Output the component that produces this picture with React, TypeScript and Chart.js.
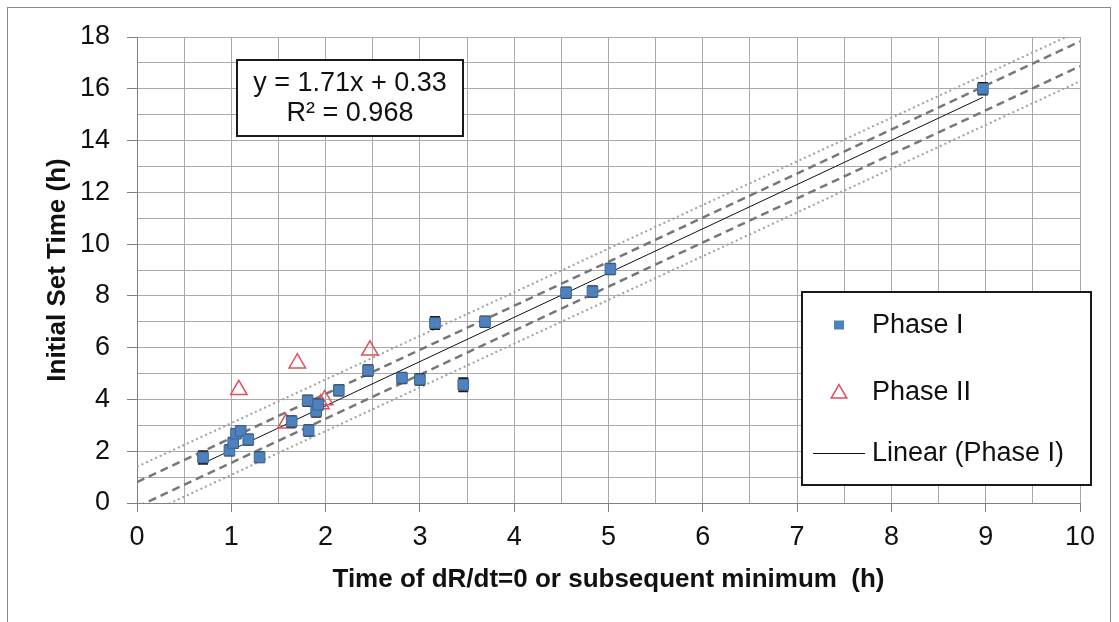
import React, { useEffect, useRef } from 'react';
import { Chart, registerables } from 'chart.js';

Chart.register(...registerables);

// ---- data ----
const phase1X = [0.70, 0.98, 1.02, 1.05, 1.10, 1.18, 1.30, 1.64, 1.82, 1.81, 1.90, 1.92, 2.14, 2.45, 2.81, 3.00, 3.16, 3.46, 3.69, 4.55, 4.83, 5.02, 8.97];
const phase1Y = [1.76, 2.03, 2.32, 2.68, 2.78, 2.45, 1.77, 3.15, 2.80, 3.95, 3.55, 3.80, 4.35, 5.12, 4.83, 4.77, 6.95, 4.57, 7.00, 8.12, 8.17, 9.04, 16.00];
const phase1Err = [0.24, 0.2, 0.2, 0.18, 0.18, 0.2, 0.2, 0.2, 0.2, 0.2, 0.22, 0.2, 0.2, 0.2, 0.2, 0.2, 0.23, 0.25, 0.2, 0.2, 0.2, 0.2, 0.22];
const phase2X = [1.08, 1.58, 1.70, 1.95, 1.99, 2.47];
const phase2Y = [4.37, 3.08, 5.40, 3.82, 3.98, 5.90];

const trendX = [0.70, 8.97];
const trendY = [1.53, 15.67];
const bandX = [0, 10];
const upperDashedY = [0.81, 17.83];
const lowerDashedY = [-0.15, 16.87];
const upperDottedY = [1.40, 18.25];
const lowerDottedY = [-0.60, 16.29];

const xTickLabels = [0, 1, 2, 3, 4, 5, 6, 7, 8, 9, 10];
const yTickLabels = [0, 2, 4, 6, 8, 10, 12, 14, 16, 18];
const equationLines = ['y = 1.71x + 0.33', 'R² = 0.968'];
const xTitle = 'Time of dR/dt=0 or subsequent minimum  (h)';
const yTitle = 'Initial Set Time (h)';
const seriesNames = ['Phase I', 'Phase II', 'Linear (Phase I)'];

const FONT = '"Liberation Sans", Arial, Helvetica, sans-serif';
const BLUE = '#4f81bd';
const BLUE_EDGE = '#3b6596';
const RED = '#e0505c';
const GRID = '#a9a9a9';

const pts = (xs: number[], ys: number[]) => xs.map((x, i) => ({ x, y: ys[i] }));

export default function App() {
  const ref = useRef<HTMLCanvasElement>(null);

  useEffect(() => {
    const canvas = ref.current;
    if (!canvas) return;

    const drawTriangle = (ctx: CanvasRenderingContext2D, x: number, y: number, r: number) => {
      ctx.beginPath();
      for (let k = 0; k < 3; k++) {
        const a = (k * 2 * Math.PI) / 3;
        const px = x + Math.sin(a) * r;
        const py = y - Math.cos(a) * r;
        if (k === 0) ctx.moveTo(px, py);
        else ctx.lineTo(px, py);
      }
      ctx.closePath();
    };

    const overlay = {
      id: 'overlay',
      beforeDraw(chart: any) {
        const ctx = chart.ctx as CanvasRenderingContext2D;
        ctx.save();
        ctx.fillStyle = '#ffffff';
        ctx.fillRect(0, 0, chart.width, chart.height);
        ctx.restore();
      },
      beforeDatasetDraw(chart: any, args: any) {
        if (args.index !== 0) return;
        const ctx = chart.ctx as CanvasRenderingContext2D;
        const ys = chart.scales.y;
        const meta = chart.getDatasetMeta(0);
        ctx.save();
        ctx.strokeStyle = '#1c1c1c';
        meta.data.forEach((pt: any, i: number) => {
          const x = pt.x;
          const yT = ys.getPixelForValue(phase1Y[i] + phase1Err[i]);
          const yB = ys.getPixelForValue(phase1Y[i] - phase1Err[i]);
          ctx.lineWidth = 1;
          ctx.beginPath();
          ctx.moveTo(x, yT);
          ctx.lineTo(x, yB);
          ctx.stroke();
          ctx.lineWidth = 2;
          ctx.beginPath();
          ctx.moveTo(x - 5, yT);
          ctx.lineTo(x + 5, yT);
          ctx.moveTo(x - 5, yB);
          ctx.lineTo(x + 5, yB);
          ctx.stroke();
        });
        ctx.restore();
      },
      afterDraw(chart: any) {
        const ctx = chart.ctx as CanvasRenderingContext2D;
        const a = chart.chartArea;
        ctx.save();

        // equation box
        const ex = a.left + 100, ey = a.top + 23, ew = 226, eh = 76;
        ctx.fillStyle = '#ffffff';
        ctx.fillRect(ex, ey, ew, eh);
        ctx.lineWidth = 2;
        ctx.strokeStyle = '#1a1a1a';
        ctx.strokeRect(ex, ey, ew, eh);
        ctx.fillStyle = '#111111';
        ctx.font = `27px ${FONT}`;
        ctx.textAlign = 'center';
        ctx.textBaseline = 'middle';
        ctx.fillText(equationLines[0], ex + ew / 2, ey + 24);
        ctx.fillText(equationLines[1], ex + ew / 2, ey + 54);

        // legend box
        const lx = a.left + 665, ly = a.top + 255, lw = 289, lh = 193;
        ctx.fillStyle = '#ffffff';
        ctx.fillRect(lx, ly, lw, lh);
        ctx.lineWidth = 2;
        ctx.strokeStyle = '#1a1a1a';
        ctx.strokeRect(lx, ly, lw, lh);

        const mx = lx + 37;
        const tx = lx + 70;
        const rows = [ly + 33, ly + 100, ly + 161];
        ctx.fillStyle = BLUE;
        ctx.fillRect(mx - 5, rows[0] - 4.5, 10, 9);
        ctx.strokeStyle = RED;
        ctx.lineWidth = 1.5;
        drawTriangle(ctx, mx, rows[1] + 1.5, 9);
        ctx.stroke();
        ctx.strokeStyle = '#111111';
        ctx.lineWidth = 1;
        ctx.beginPath();
        ctx.moveTo(lx + 11, rows[2] + 0.5);
        ctx.lineTo(lx + 63, rows[2] + 0.5);
        ctx.stroke();

        ctx.fillStyle = '#111111';
        ctx.font = `27px ${FONT}`;
        ctx.textAlign = 'left';
        ctx.textBaseline = 'middle';
        rows.forEach((ry, i) => ctx.fillText(seriesNames[i], tx, ry + 1));

        // outer frame
        ctx.strokeStyle = '#8a8a8a';
        ctx.lineWidth = 1;
        ctx.strokeRect(7.5, 7.5, 1103, 700);
        ctx.restore();
      },
    };

    const chart = new Chart(canvas, {
      type: 'scatter',
      data: {
        datasets: [
          {
            label: seriesNames[0],
            data: pts(phase1X, phase1Y),
            pointStyle: 'rect',
            pointRadius: 7.5,
            backgroundColor: BLUE,
            borderColor: BLUE_EDGE,
            borderWidth: 1,
          },
          {
            label: seriesNames[1],
            data: pts(phase2X, phase2Y),
            pointStyle: 'triangle',
            pointRadius: 9.5,
            backgroundColor: 'rgba(255,255,255,0)',
            borderColor: RED,
            borderWidth: 1.5,
          },
          {
            label: seriesNames[2],
            type: 'line',
            data: pts(trendX, trendY),
            borderColor: '#111111',
            borderWidth: 1,
            pointRadius: 0,
            fill: false,
          },
          {
            label: 'upper confidence',
            type: 'line',
            data: pts(bandX, upperDashedY),
            borderColor: '#777777',
            borderWidth: 2.5,
            borderDash: [8, 5],
            pointRadius: 0,
            fill: false,
          },
          {
            label: 'lower confidence',
            type: 'line',
            data: pts(bandX, lowerDashedY),
            borderColor: '#777777',
            borderWidth: 2.5,
            borderDash: [8, 5],
            pointRadius: 0,
            fill: false,
          },
          {
            label: 'upper prediction',
            type: 'line',
            data: pts(bandX, upperDottedY),
            borderColor: '#a0a0a0',
            borderWidth: 2,
            borderDash: [2, 3],
            pointRadius: 0,
            fill: false,
          },
          {
            label: 'lower prediction',
            type: 'line',
            data: pts(bandX, lowerDottedY),
            borderColor: '#a0a0a0',
            borderWidth: 2,
            borderDash: [2, 3],
            pointRadius: 0,
            fill: false,
          },
        ],
      } as any,
      options: {
        responsive: false,
        animation: false,
        events: [],
        layout: { padding: { left: 0, right: 39, top: 37, bottom: 0 } },
        plugins: {
          legend: { display: false },
          tooltip: { enabled: false },
        },
        scales: {
          x: {
            type: 'linear',
            min: 0,
            max: 10,
            afterFit: (s: any) => {
              s.height = 119;
            },
            ticks: {
              stepSize: 0.5,
              autoSkip: false,
              maxRotation: 0,
              padding: 9,
              color: '#111111',
              font: { family: FONT, size: 27 },
              callback: (v: any) => (xTickLabels.includes(Number(v)) ? String(v) : ''),
            },
            grid: {
              color: GRID,
              lineWidth: 1,
              tickLength: 9,
              tickColor: (c: any) => (c.tick && xTickLabels.includes(c.tick.value) ? '#808080' : 'rgba(0,0,0,0)'),
            },
            border: { color: '#808080', width: 1 },
            title: {
              display: true,
              text: xTitle,
              color: '#111111',
              font: { family: FONT, size: 26, weight: 'bold' },
              padding: { top: 0, bottom: 27 },
            },
          },
          y: {
            type: 'linear',
            min: 0,
            max: 18,
            afterFit: (s: any) => {
              s.width = 137;
            },
            ticks: {
              stepSize: 1,
              autoSkip: false,
              padding: 17,
              color: '#111111',
              font: { family: FONT, size: 27 },
              callback: (v: any) => (yTickLabels.includes(Number(v)) ? String(v) : ''),
            },
            grid: {
              color: GRID,
              lineWidth: 1,
              tickLength: 10,
              tickColor: (c: any) => (c.tick && yTickLabels.includes(c.tick.value) ? '#808080' : 'rgba(0,0,0,0)'),
            },
            border: { color: '#808080', width: 1 },
            title: {
              display: true,
              text: yTitle,
              color: '#111111',
              font: { family: FONT, size: 26, weight: 'bold' },
              padding: { top: 42, bottom: 0 },
            },
          },
        },
      } as any,
      plugins: [overlay as any],
    });

    return () => chart.destroy();
  }, []);

  return (
    <div style={{ position: 'fixed', left: 0, top: 0, width: 1119, height: 622, background: '#ffffff' }}>
      <canvas ref={ref} width={1119} height={622} style={{ display: 'block', width: 1119, height: 622 }} />
    </div>
  );
}
